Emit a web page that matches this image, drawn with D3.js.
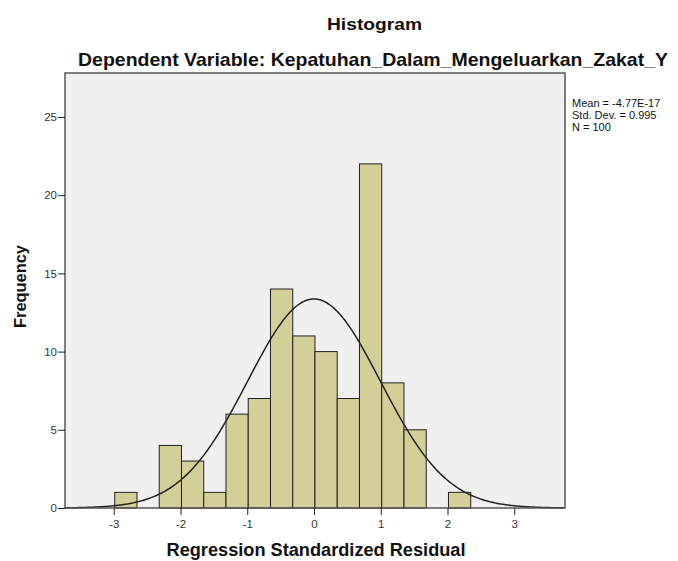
<!DOCTYPE html>
<html><head><meta charset="utf-8">
<script src="https://cdn.jsdelivr.net/npm/d3@7"></script>
<style>body{margin:0;background:#fff}text{font-family:"Liberation Sans",Arial,sans-serif}</style>
</head><body><svg id="c" width="678" height="561"></svg>
<script>
const binStart = -2.985;
const binWidth = 0.3333;
const counts = [1,0,4,3,1,6,7,14,11,10,7,22,8,5,0,1];
const xTicks = [-3,-2,-1,0,1,2,3];
const yTicks = [0,5,10,15,20,25];
const stats = ["Mean = -4.77E-17","Std. Dev. = 0.995","N = 100"];
const mean = -4.77e-17, sd = 0.995, N = 100;

const svg = d3.select("#c");
const L=65, R=565, T=73, B=508;
const x = d3.scaleLinear().domain([-3.73,3.76]).range([L,R]);
const y = d3.scaleLinear().domain([0,27.81]).range([B,T]);

svg.append("rect").attr("x",L).attr("y",T).attr("width",R-L).attr("height",B-T).attr("fill","#f0f0f0");

const bins = counts.map((c,i)=>({x0:binStart+i*binWidth,x1:binStart+(i+1)*binWidth,c})).filter(d=>d.c>0);
svg.selectAll("rect.bar").data(bins).enter().append("rect").attr("class","bar")
  .attr("x",d=>x(d.x0)).attr("width",d=>x(d.x1)-x(d.x0))
  .attr("y",d=>y(d.c)).attr("height",d=>y(0)-y(d.c))
  .attr("fill","#d3cf98").attr("stroke","#222").attr("stroke-width",1);

const pts = d3.range(-3.73,3.761,0.02).map(v=>[v,N*binWidth*Math.exp(-0.5*((v-mean)/sd)**2)/(sd*Math.sqrt(2*Math.PI))]);
svg.append("path").datum(pts).attr("fill","none").attr("stroke","#222").attr("stroke-width",1.5)
  .attr("d",d3.line().x(d=>x(d[0])).y(d=>y(d[1])).curve(d3.curveBasis));

svg.append("rect").attr("x",L).attr("y",T).attr("width",R-L).attr("height",B-T).attr("fill","none").attr("stroke","#555").attr("stroke-width",1.5);

const xa = svg.append("g").attr("transform",`translate(0,${B})`).call(d3.axisBottom(x).tickValues(xTicks).tickSize(7).tickSizeOuter(0).tickFormat(d3.format("d")));
xa.select(".domain").remove();
xa.selectAll("line").attr("stroke","#222");
xa.selectAll("text").attr("font-size",11.5).attr("fill","#333").attr("dy","0.9em").text(d=>d<0?"-"+Math.abs(d):d);

const ya = svg.append("g").attr("transform",`translate(${L},0)`).call(d3.axisLeft(y).tickValues(yTicks).tickSize(7).tickSizeOuter(0));
ya.select(".domain").remove();
ya.selectAll("line").attr("stroke","#222");
ya.selectAll("text").attr("font-size",11.5).attr("fill","#333").attr("x",-8);

svg.append("text").attr("x",374.5).attr("y",30).attr("text-anchor","middle").attr("font-size",16.5).attr("font-weight","bold").attr("fill","#111")
  .attr("textLength",95).attr("lengthAdjust","spacingAndGlyphs").text("Histogram");
svg.append("text").attr("x",373).attr("y",66).attr("text-anchor","middle").attr("font-size",19).attr("font-weight","bold").attr("fill","#111")
  .attr("textLength",590).attr("lengthAdjust","spacingAndGlyphs").text("Dependent Variable: Kepatuhan_Dalam_Mengeluarkan_Zakat_Y");
svg.append("text").attr("x",316).attr("y",556).attr("text-anchor","middle").attr("font-size",18).attr("font-weight","bold").attr("fill","#111")
  .attr("textLength",299).attr("lengthAdjust","spacingAndGlyphs").text("Regression Standardized Residual");
svg.append("text").attr("transform","translate(26,286.5) rotate(-90)").attr("text-anchor","middle").attr("font-size",16).attr("font-weight","bold").attr("fill","#111")
  .attr("textLength",83).attr("lengthAdjust","spacingAndGlyphs").text("Frequency");

svg.selectAll("text.stat").data(stats).enter().append("text").attr("class","stat")
  .attr("x",572).attr("y",(d,i)=>107+i*12).attr("font-size",11).attr("fill","#111").text(d=>d);
</script></body></html>
